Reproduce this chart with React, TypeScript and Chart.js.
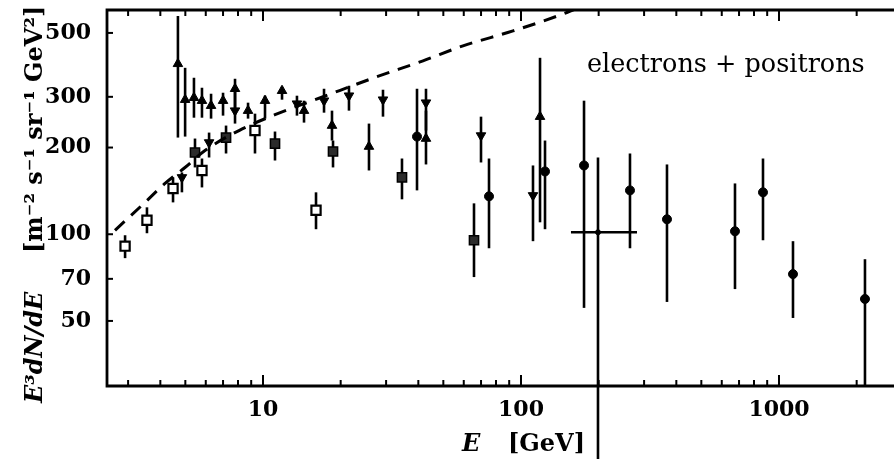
import React, { useEffect, useRef } from "react";
import { Chart, registerables } from "chart.js";

Chart.register(...registerables);

// ---- Data (E in GeV, E^3 dN/dE in m^-2 s^-1 sr^-1 GeV^2) ----
const dashE = [2.669, 3.488, 4.171, 4.985, 5.958, 8.072, 11.13, 17.09, 26.93, 41.71, 59.58, 93.1, 145.5, 177];
const dashV = [103.2, 129.0, 150.1, 170.5, 195.3, 229.1, 260.1, 300.2, 349.4, 400.0, 450.9, 508, 581.8, 625];

const openSqE = [2.92, 3.55, 4.48, 5.8, 9.31, 16.05];
const openSqV = [90.9, 111.8, 144.2, 166.5, 229.1, 121.1];
const openSqLo = [82.6, 100.8, 129.0, 145.4, 190.7, 104.1];
const openSqHi = [99.2, 124.0, 157.5, 183.2, 262.2, 139.8];

const fillSqE = [5.45, 7.19, 11.13, 18.68, 34.57, 65.74];
const fillSqV = [192.2, 216.6, 206.5, 193.8, 157.5, 95.3];
const fillSqLo = [170.6, 190.7, 180.3, 170.6, 132.2, 71.0];
const fillSqHi = [214.9, 238.4, 227.3, 211.5, 183.2, 128.0];

const upE = [4.68, 4.99, 5.4, 5.8, 6.29, 7.0, 7.79, 8.75, 10.18, 11.85, 14.42, 18.51, 25.75, 42.83, 118.5];
const upV = [390.6, 293.2, 297.9, 290.9, 279.5, 290.9, 320.0, 268.6, 290.9, 315.0, 268.6, 238.4, 201.6, 214.9, 256.0];
const upLo = [216.6, 218.3, 253.9, 253.9, 252.0, 258.1, 268.6, 252.0, 252.0, 293.2, 244.1, 211.5, 166.5, 174.7, 110.0];
const upHi = [572.6, 378.3, 349.4, 322.6, 307.5, 310.0, 346.6, 286.3, 302.7, 325.2, 290.9, 268.6, 242.2, 268.6, 409.8];

const downE = [4.85, 6.18, 7.79, 13.54, 17.24, 21.54, 29.18, 42.83, 69.98, 111.3];
const downV = [157.5, 208.2, 268.6, 284.0, 290.9, 302.7, 293.2, 286.3, 220.1, 136.4];
const downLo = [139.8, 184.7, 242.2, 258.1, 264.3, 268.6, 256.0, 229.1, 177.5, 94.6];
const downHi = [163.9, 225.4, 320.0, 302.7, 320.0, 327.8, 317.5, 320.0, 256.0, 173.3];

const circE = [39.53, 75.16, 123.9, 175.5, 264.5, 368.0, 675.2, 866.9, 1133, 2154];
const circV = [218.3, 135.4, 165.2, 173.3, 142.0, 112.7, 102.4, 139.8, 72.7, 59.6];
const circLo = [142.0, 89.4, 104.1, 55.5, 89.4, 58.2, 64.5, 95.3, 51.2, 29.7];
const circHi = [320.0, 183.2, 211.5, 290.9, 190.7, 174.7, 150.1, 183.2, 94.6, 81.9];

const binE = [198.8];
const binV = [101.6];
const binELo = [156.2];
const binEHi = [281.6];
const binLo = [12];
const binHi = [184.7];

const X_MAJOR = [10, 100, 1000];
const X_MINOR = [3, 4, 5, 6, 7, 8, 9, 20, 30, 40, 50, 60, 70, 80, 90, 200, 300, 400, 500, 600, 700, 800, 900, 2000];
const Y_TICKS = [50, 70, 100, 200, 300, 500];

const X_MIN = 2.485;
const X_MAX = 2791;
const Y_MIN = 29.72;
const Y_MAX = 600.6;

const LABEL = "electrons + positrons";
const Y_TITLE_IT = "E\u00B3dN/dE";
const Y_TITLE_RM = "[m\u207B\u00B2 s\u207B\u00B9 sr\u207B\u00B9 GeV\u00B2]";
const X_TITLE_IT = "E";
const X_TITLE_RM = "[GeV]";

const FONT = '"DejaVu Serif"';

const pts = (xs: number[], ys: number[]) => xs.map((x, i) => ({ x, y: ys[i] }));

export default function App() {
  const ref = useRef<HTMLCanvasElement>(null);

  useEffect(() => {
    document.body.style.margin = "0";
    const canvas = ref.current!;

    const deco = {
      id: "deco",
      beforeDatasetsDraw(chart: any) {
        const { ctx, scales } = chart;
        const x = scales.x;
        const y = scales.y;
        ctx.save();
        ctx.strokeStyle = "#000";
        ctx.lineWidth = 2.6;
        ctx.lineCap = "butt";
        const vbars = (E: number[], lo: number[], hi: number[]) => {
          for (let i = 0; i < E.length; i++) {
            const px = x.getPixelForValue(E[i]);
            ctx.beginPath();
            ctx.moveTo(px, y.getPixelForValue(lo[i]));
            ctx.lineTo(px, y.getPixelForValue(hi[i]));
            ctx.stroke();
          }
        };
        vbars(openSqE, openSqLo, openSqHi);
        vbars(fillSqE, fillSqLo, fillSqHi);
        vbars(upE, upLo, upHi);
        vbars(downE, downLo, downHi);
        vbars(circE, circLo, circHi);
        vbars(binE, binLo, binHi);
        for (let i = 0; i < binE.length; i++) {
          const py = y.getPixelForValue(binV[i]);
          ctx.beginPath();
          ctx.moveTo(x.getPixelForValue(binELo[i]), py);
          ctx.lineTo(x.getPixelForValue(binEHi[i]), py);
          ctx.stroke();
        }
        ctx.restore();
      },
      afterDraw(chart: any) {
        const { ctx, chartArea: a, scales } = chart;
        const x = scales.x;
        const y = scales.y;
        ctx.save();
        ctx.strokeStyle = "#000";
        ctx.lineWidth = 2.8;
        ctx.beginPath();
        ctx.moveTo(a.right + 2, a.top);
        ctx.lineTo(a.left, a.top);
        ctx.lineTo(a.left, a.bottom);
        ctx.lineTo(a.right + 2, a.bottom);
        ctx.stroke();

        ctx.lineWidth = 2;
        const tick = (v: number, len: number) => {
          const px = x.getPixelForValue(v);
          ctx.beginPath();
          ctx.moveTo(px, a.bottom);
          ctx.lineTo(px, a.bottom - len);
          ctx.moveTo(px, a.top);
          ctx.lineTo(px, a.top + len);
          ctx.stroke();
        };
        X_MAJOR.forEach((v) => tick(v, 11));
        X_MINOR.forEach((v) => tick(v, 6));
        Y_TICKS.forEach((v) => {
          const py = y.getPixelForValue(v);
          ctx.beginPath();
          ctx.moveTo(a.left, py);
          ctx.lineTo(a.left + 6, py);
          ctx.stroke();
        });

        ctx.fillStyle = "#000";
        ctx.textBaseline = "alphabetic";
        ctx.textAlign = "left";
        ctx.font = `25.5px ${FONT}`;
        ctx.fillText(LABEL, 587, 72);

        ctx.font = `italic bold 24px ${FONT}`;
        ctx.fillText(X_TITLE_IT, 462, 451);
        ctx.font = `bold 24px ${FONT}`;
        ctx.fillText(X_TITLE_RM, 508, 451);

        ctx.translate(42, 403);
        ctx.rotate(-Math.PI / 2);
        ctx.font = `italic bold 24px ${FONT}`;
        ctx.fillText(Y_TITLE_IT, 0, 0);
        ctx.font = `bold 24px ${FONT}`;
        ctx.fillText(Y_TITLE_RM, 150, 0);
        ctx.restore();
      },
    };

    const chart = new Chart(canvas, {
      type: "scatter",
      data: {
        datasets: [
          {
            type: "line",
            data: pts(dashE, dashV),
            borderColor: "#000",
            borderWidth: 3,
            borderDash: [13, 9],
            pointRadius: 0,
            fill: false,
            cubicInterpolationMode: "monotone",
            showLine: true,
          } as any,
          {
            data: pts(openSqE, openSqV),
            pointStyle: "rect",
            pointRadius: 6.5,
            backgroundColor: "#fff",
            borderColor: "#000",
            borderWidth: 2.2,
          },
          {
            data: pts(fillSqE, fillSqV),
            pointStyle: "rect",
            pointRadius: 6.5,
            backgroundColor: "#2b2b2b",
            borderColor: "#000",
            borderWidth: 1.5,
          },
          {
            data: pts(upE, upV),
            pointStyle: "triangle",
            pointRadius: 5.5,
            backgroundColor: "#000",
            borderColor: "#000",
            borderWidth: 1,
          },
          {
            data: pts(downE, downV),
            pointStyle: "triangle",
            rotation: 180,
            pointRadius: 5.5,
            backgroundColor: "#000",
            borderColor: "#000",
            borderWidth: 1,
          } as any,
          {
            data: pts(circE, circV),
            pointStyle: "circle",
            pointRadius: 4.5,
            backgroundColor: "#000",
            borderColor: "#000",
            borderWidth: 1,
          },
          {
            data: pts(binE, binV),
            pointStyle: "circle",
            pointRadius: 2.5,
            backgroundColor: "#000",
            borderColor: "#000",
            borderWidth: 1,
          },
        ],
      },
      options: {
        animation: false,
        responsive: false,
        devicePixelRatio: 1,
        events: [],
        layout: { autoPadding: false, padding: { top: 10, right: 0, bottom: 0, left: 0 } },
        plugins: {
          legend: { display: false },
          tooltip: { enabled: false },
          title: { display: false },
        },
        scales: {
          x: {
            type: "logarithmic",
            min: X_MIN,
            max: X_MAX,
            grid: { display: false, drawTicks: false },
            border: { display: false },
            afterBuildTicks: (s: any) => {
              s.ticks = X_MAJOR.map((v) => ({ value: v }));
            },
            afterFit: (s: any) => {
              s.height = 73;
              s.paddingLeft = 0;
              s.paddingRight = 0;
            },
            ticks: {
              autoSkip: false,
              maxRotation: 0,
              padding: 11,
              color: "#000",
              font: { family: "DejaVu Serif", size: 22, weight: "bold" },
              callback: (v: any) => String(v),
            },
          },
          y: {
            type: "logarithmic",
            min: Y_MIN,
            max: Y_MAX,
            grid: { display: false, drawTicks: false },
            border: { display: false },
            afterBuildTicks: (s: any) => {
              s.ticks = Y_TICKS.map((v) => ({ value: v }));
            },
            afterFit: (s: any) => {
              s.width = 107;
              s.paddingTop = 0;
              s.paddingBottom = 0;
            },
            ticks: {
              autoSkip: false,
              padding: 16,
              color: "#000",
              font: { family: "DejaVu Serif", size: 22, weight: "bold" },
              callback: (v: any) => String(v),
            },
          },
        },
      } as any,
      plugins: [deco],
    });

    return () => chart.destroy();
  }, []);

  return (
    <div style={{ width: 894, height: 459 }}>
      <canvas ref={ref} width={894} height={459} style={{ display: "block" }} />
    </div>
  );
}
